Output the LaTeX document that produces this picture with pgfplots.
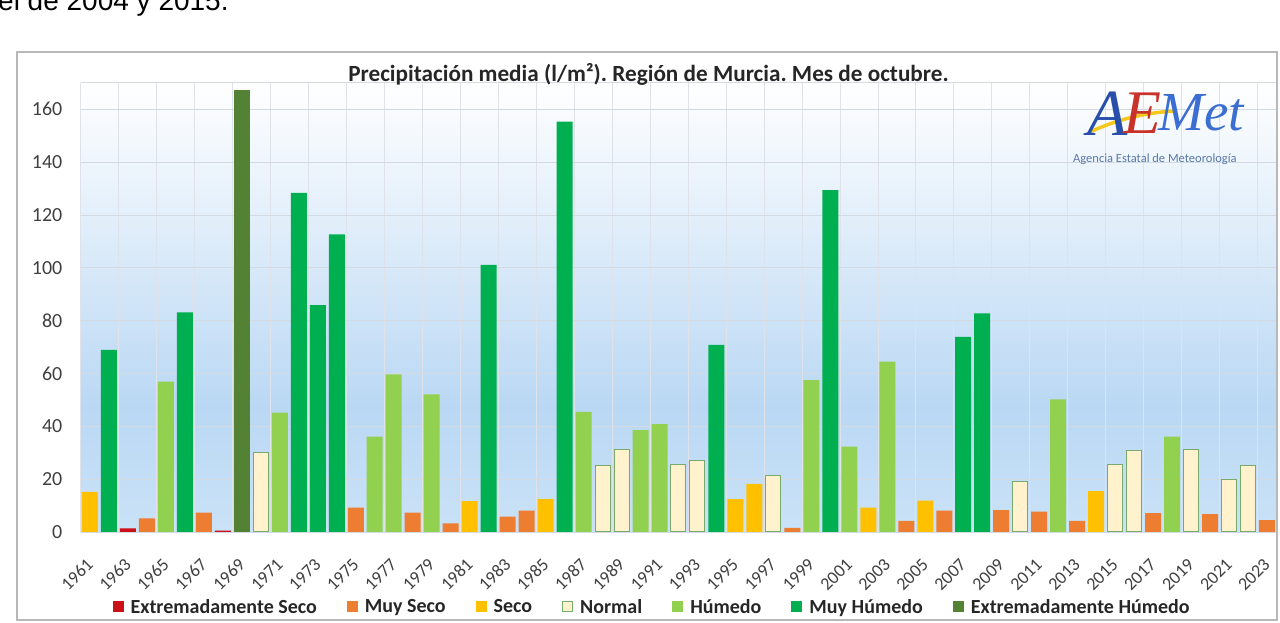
\documentclass[border=0pt]{standalone}
\usepackage{fontspec}
\setmainfont{Carlito}
\newfontfamily\arialfont{Liberation Sans}
\newfontfamily\logofont{Liberation Serif}
\usepackage{pgfplots}
\pgfplotsset{compat=1.18}
\frenchspacing

\definecolor{cES}{RGB}{204,16,24}
\definecolor{cMS}{RGB}{237,125,49}
\definecolor{cS}{RGB}{255,192,0}
\definecolor{cN}{RGB}{255,242,204}
\definecolor{cNb}{RGB}{120,170,110}
\definecolor{cH}{RGB}{146,208,80}
\definecolor{cMH}{RGB}{0,176,80}
\definecolor{cEH}{RGB}{84,130,53}
\definecolor{bgmid}{RGB}{186,216,244}
\definecolor{bgbot}{RGB}{202,226,247}
\definecolor{gridc}{RGB}{212,218,226}
\definecolor{txt}{RGB}{64,64,64}
\definecolor{logoblue}{RGB}{40,80,170}
\definecolor{logoblue2}{RGB}{60,110,210}
\definecolor{logored}{RGB}{200,50,40}
\definecolor{logoyel}{RGB}{245,200,30}
\definecolor{logosub}{RGB}{90,120,170}

\pgfdeclareverticalshading{bgshade}{100bp}{color(0bp)=(bgbot); color(25bp)=(bgbot); color(39bp)=(bgmid); color(75bp)=(white); color(100bp)=(white)}

\pgfplotsset{
  mybar/.style={fill=#1, draw=none, bar shift=0pt,
    legend image code/.code={\fill[#1] (0pt,-5.5pt) rectangle (11pt,5.5pt);}},
}

\begin{document}
\begin{tikzpicture}[x=1pt,y=1pt]
\begin{axis}[
  at={(80.5pt,91pt)}, anchor=south west,
  width=1196pt, height=449.1pt, scale only axis,
  axis background/.style={shading=bgshade},
  ybar, bar width=16pt,
  xmin=-0.5, xmax=62.5, ymin=0, ymax=170,
  ytick={0,20,...,160},
  extra y ticks={170}, extra y tick labels={},
  xtick={0,2,...,62},
  xticklabels={1961,1963,1965,1967,1969,1971,1973,1975,1977,1979,1981,1983,1985,1987,1989,1991,1993,1995,1997,1999,2001,2003,2005,2007,2009,2011,2013,2015,2017,2019,2021,2023},
  minor xtick={-0.5,1.5,...,61.5},
  xminorgrids=true, ymajorgrids=true,
  major grid style={gridc, line width=0.8pt},
  minor grid style={gridc!75, line width=0.6pt},
  major tick length=0pt, minor tick length=0pt,
  axis line style={draw=none},
  /pgf/number format/assume math mode=true,
  yticklabel style={font=\fontsize{20}{22}\selectfont, text=txt, inner sep=0pt, anchor=east, xshift=-18pt},
  xticklabel style={font=\fontsize{18}{20}\selectfont, text=txt, inner sep=0pt, xshift=0pt, yshift=-29.5pt, rotate=45, anchor=east},
  legend columns=7,
  legend style={at={(0.478,-0.167)}, anchor=center, draw=none, fill=none,
    font=\bfseries\fontsize{20}{22}\selectfont, text=black!85,
    /tikz/every even column/.append style={column sep=28pt},
    /tikz/every odd column/.append style={column sep=5pt}},
]
\addplot[mybar=cES] coordinates {(2,1.4) (7,0.5)};
\addlegendentry{Extremadamente Seco}
\addplot[mybar=cMS] coordinates {(3,5.2) (6,7.3) (14,9.2) (17,7.3) (19,3.3) (22,5.8) (23,8.1) (37,1.6) (43,4.2) (45,8.1) (48,8.3) (50,7.7) (52,4.2) (56,7.1) (59,6.8) (62,4.5)};
\addlegendentry{Muy Seco}
\addplot[mybar=cS] coordinates {(0,15.2) (20,11.7) (24,12.4) (34,12.4) (35,18.2) (41,9.2) (44,11.9) (53,15.5)};
\addlegendentry{Seco}
\addplot[fill=cN, draw=cNb, line width=1pt, bar shift=0pt, bar width=15pt,
  legend image code/.code={\filldraw[fill=cN, draw=cNb, line width=1pt] (0.5pt,-5pt) rectangle (10.5pt,5pt);}]
  coordinates {(9,30.0) (27,25.0) (28,31.3) (31,25.7) (32,26.9) (36,21.3) (49,19.0) (54,25.7) (55,31.0) (58,31.3) (60,19.7) (61,25.1)};
\addlegendentry{Normal}
\addplot[mybar=cH] coordinates {(4,56.9) (10,45.2) (15,36.1) (16,59.7) (18,52.1) (26,45.5) (29,38.6) (30,40.8) (38,57.5) (40,32.3) (42,64.5) (51,50.2) (57,36.1)};
\addlegendentry{Húmedo}
\addplot[mybar=cMH] coordinates {(1,68.9) (5,83.1) (11,128.4) (12,85.9) (13,112.7) (21,101.1) (25,155.3) (33,70.8) (39,129.4) (46,73.9) (47,82.8)};
\addlegendentry{Muy Húmedo}
\addplot[mybar=cEH] coordinates {(8,167.3)};
\addlegendentry{Extremadamente Húmedo}
\end{axis}

\path[use as bounding box] (0,0) rectangle (1280,623);
\begin{scope}
\clip (0,0) rectangle (1280,623);
\node[anchor=base west, font=\arialfont\fontsize{28}{30}\selectfont, text=black, inner sep=0pt] at (-2,612) {el de 2004 y 2015.};
\end{scope}
\draw[black!28, line width=1.3pt] (17,3) rectangle (1277,571);

\node[font=\bfseries\fontsize{23.2}{26}\selectfont, text=black!85] at (648.5,549) {Precipitación media (l/m²). Región de Murcia. Mes de octubre.};

% logo
\draw[logoyel, line width=3.5pt, line cap=round] (1092,492) .. controls (1115,502) and (1140,510) .. (1175,512);
\node[anchor=base west, inner sep=0pt, font=\logofont\itshape\fontsize{66}{66}\selectfont, text=logoblue] at (1087,487) {A};
\node[anchor=base west, inner sep=0pt, font=\logofont\itshape\fontsize{62}{62}\selectfont, text=logored] at (1123,489) {E};
\node[anchor=base west, inner sep=0pt, font=\logofont\itshape\fontsize{55}{55}\selectfont, text=logoblue2] at (1158,492) {Met};
\node[anchor=west, inner sep=0pt, font=\fontsize{12.5}{13}\selectfont, text=logosub] at (1073,464) {Agencia Estatal de Meteorología};
\end{tikzpicture}
\end{document}
